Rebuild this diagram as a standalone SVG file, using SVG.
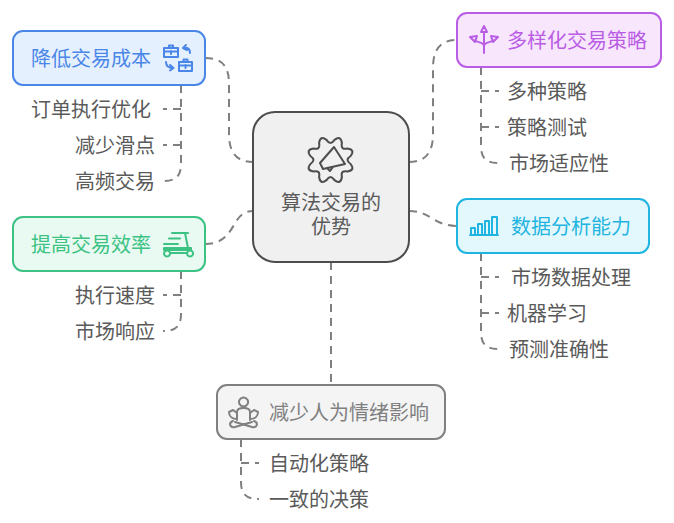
<svg xmlns="http://www.w3.org/2000/svg" width="674" height="523" viewBox="0 0 674 523">
<style>
text{font-family:"Noto Sans CJK SC","Liberation Sans",sans-serif;font-size:20px;fill:#5a5a5a}
.c{fill:none;stroke:#808080;stroke-width:2;stroke-dasharray:8 6}
.i{fill:none;stroke-width:2;stroke-linecap:round;stroke-linejoin:round}
.n{stroke-width:2}
</style>
<rect width="674" height="523" fill="#fff"/>
<g id="connectors">
<path class="c" d="M205 58C222 58 229 66 229 84V134C229 152 236 162 253 162"/>
<path class="c" d="M205 244C222 244 228 235 234 225C239 216 244 211 253 211"/>
<path class="c" d="M409 162C426 162 433 152 433 134V68C433 50 440 40 457 40"/>
<path class="c" d="M409 211C420 211 425 214 433 219C440 223 447 226 457 226"/>
<path class="c" d="M331 262V385"/>
<path class="c" d="M181 85V164C181 176 176 181 163 181"/>
<path class="c" d="M181 109H163M181 145H163"/>
<path class="c" d="M181 271V314C181 326 176 331 163 331"/>
<path class="c" d="M181 295H163"/>
<path class="c" d="M481 67V146C481 158 486 163 499 163"/>
<path class="c" d="M481 91H499M481 127H499"/>
<path class="c" d="M481 253V332C481 344 486 349 499 349"/>
<path class="c" d="M481 277H499M481 313H499"/>
<path class="c" d="M241 439V482C241 494 246 499 259 499"/>
<path class="c" d="M241 463H259"/>
</g>
<g id="center">
<rect class="n" x="253" y="112" width="156" height="150" rx="22" fill="#f0f0f0" stroke="#4d4d4d"/>
<path class="i" stroke="#4d4d4d" transform="translate(330.500 160)" d="M20.100-4Q14 0 20.100 4Q24.900 10.300 17 11.400Q9.900 9.900 11.400 17Q10.300 24.900 4 20.100Q0 14-4 20.100Q-10.300 24.900-11.400 17Q-9.900 9.900-17 11.400Q-24.900 10.300-20.100 4Q-14 0-20.100-4Q-24.900-10.300-17-11.400Q-9.900-9.900-11.400-17Q-10.300-24.900-4-20.100Q0-14 4-20.100Q10.300-24.900 11.400-17Q9.900-9.900 17-11.400Q24.900-10.300 20.100-4Z"/>
<path class="i" stroke="#4d4d4d" d="M334 147L345 164L323 169L320 163ZM327 168L330 171L333 167"/>
<text text-anchor="middle"><tspan x="331" y="209.500">算法交易的</tspan><tspan x="331" y="233.500">优势</tspan></text>
</g>
<g id="node-cost">
<rect class="n" x="13" y="31" width="192" height="54" rx="10" fill="#e5f0ff" stroke="#4a86e8"/>
<text x="31" y="66" style="fill:#4a86e8">降低交易成本</text>
<path class="i" stroke="#4a86e8" d="M164 48H178V57H164ZM169 48V45.500H173V48M164 51.500H178M171 51V54M186 45L183 48L187 50M183 48C188 47 190 49 190 53M179 62H192V71H179ZM183.500 62V59.500H187.500V62M179 65.500H192M185.500 65V68M166 62C166 66 168 68 173 68M170 65L173.500 68L170 70.500"/>
</g>
<g id="node-cost-items">
<text x="31" y="117">订单执行优化</text>
<text x="75" y="153">减少滑点</text>
<text x="75" y="189">高频交易</text>
</g>
<g id="node-speed">
<rect class="n" x="13" y="217" width="192" height="54" rx="10" fill="#e8faf2" stroke="#3cc383"/>
<text x="31" y="252" style="fill:#3cc383">提高交易效率</text>
<path class="i" stroke="#3cc383" d="M172 233H188M169 238.500H180M164 244H178M185 233L188 248M164 248H191V250H164ZM170 253H187M167 250.500A3 3 0 1 0 167.100 250.500M190 250.500A3 3 0 1 0 190.100 250.500"/>
</g>
<g id="node-speed-items">
<text x="75" y="303">执行速度</text>
<text x="75" y="339">市场响应</text>
</g>
<g id="node-strategy">
<rect class="n" x="457" y="13" width="204" height="54" rx="10" fill="#f8e6fd" stroke="#ba5de5"/>
<text x="507" y="48" style="fill:#ba5de5">多样化交易策略</text>
<path class="i" stroke="#ba5de5" d="M484 53V32M484 46C484 42 491 43 493 40M484 46C484 42 477 43 475 40M484 26L481 32H487ZM470 37L477 36L475 42ZM498 37L491 36L493 42Z"/>
</g>
<g id="node-strategy-items">
<text x="507" y="99">多种策略</text>
<text x="507" y="135">策略测试</text>
<text x="509" y="171">市场适应性</text>
</g>
<g id="node-data">
<rect class="n" x="457" y="199" width="192" height="54" rx="10" fill="#e3f8fd" stroke="#1fb5e0"/>
<text x="511" y="234" style="fill:#1fb5e0">数据分析能力</text>
<path class="i" stroke="#1fb5e0" d="M470 235H498M471 235V228H475V235M478 235V224H482V235M485 235V221H489V235M492 235V217H497V235"/>
</g>
<g id="node-data-items">
<text x="511" y="285">市场数据处理</text>
<text x="507" y="321">机器学习</text>
<text x="509" y="357">预测准确性</text>
</g>
<g id="node-emotion">
<rect class="n" x="217" y="385" width="228" height="54" rx="10" fill="#f4f4f4" stroke="#808080"/>
<text x="269" y="420" style="fill:#808080">减少人为情绪影响</text>
<path class="i" stroke="#808080" d="M243.500 397.500A4.500 4.500 0 1 0 243.600 397.500M237 420V412C237 409 240 408 243.500 408C247 408 250 409 250 412V420M237 413L233 410L229 412C229 416 232 419 237 419M250 413L254 410L258 412C258 416 255 419 250 419M233 421C228 423 230 428 235 427L252 422M254 421C259 423 257 428 252 427L235 422"/>
</g>
<g id="node-emotion-items">
<text x="269" y="471">自动化策略</text>
<text x="269" y="507">一致的决策</text>
</g>
</svg>
